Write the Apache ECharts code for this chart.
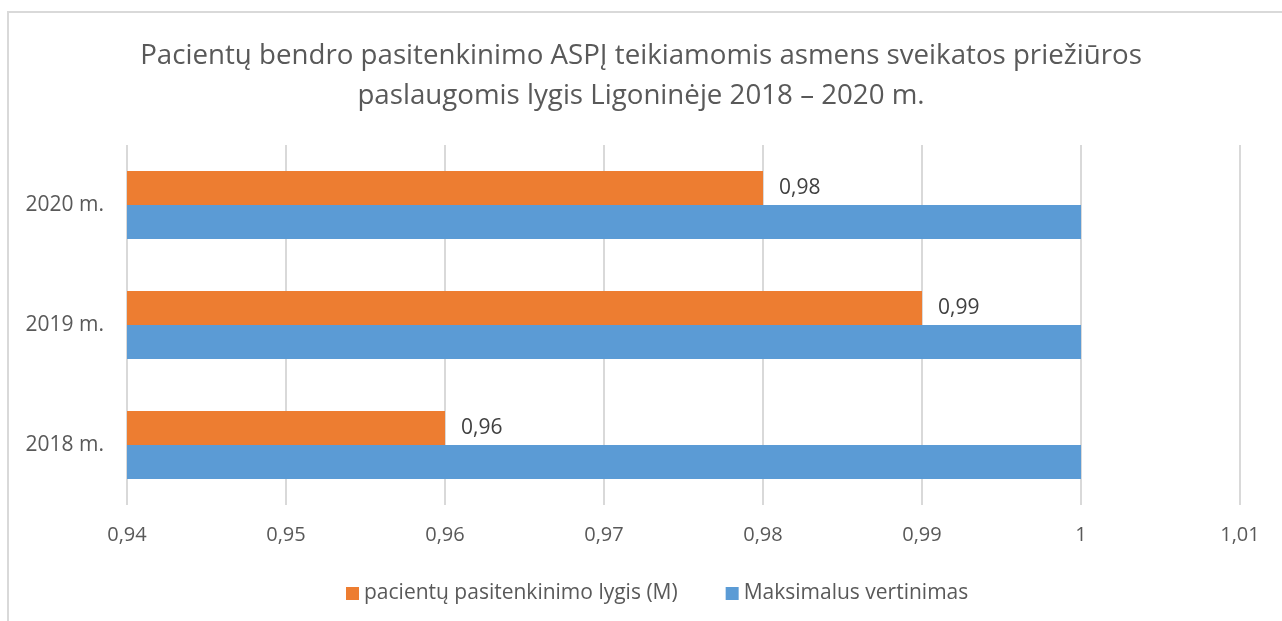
<!DOCTYPE html>
<html>
<head>
<meta charset="utf-8">
<script src="https://cdn.jsdelivr.net/npm/echarts@6/dist/echarts.min.js"></script>
<style>
html,body{margin:0;padding:0;background:#fff;}
#frame{position:absolute;left:7px;top:11px;width:1290px;height:640px;border-top:2px solid #d9d9d9;border-left:2px solid #d9d9d9;box-sizing:border-box;}
#chart{position:absolute;left:0;top:0;width:1282px;height:621px;}
</style>
</head>
<body>
<div id="frame"></div>
<div id="chart"></div>
<script>
const categories = ['2018 m.', '2019 m.', '2020 m.'];
const satisfaction = [0.96, 0.99, 0.98];
const maximum = [1, 1, 1];
const seriesNames = ['pacientų pasitenkinimo lygis (M)', 'Maksimalus vertinimas'];
const titleText = 'Pacientų bendro pasitenkinimo ASPĮ teikiamomis asmens sveikatos priežiūros\npaslaugomis lygis Ligoninėje 2018 – 2020 m.';

const fmt = v => String(Math.round(v * 100) / 100).replace('.', ',');
const FONT = '"Open Sans", "DejaVu Sans", sans-serif';
const chart = echarts.init(document.getElementById('chart'));
chart.setOption({
  backgroundColor: 'transparent',
  animation: false,
  textStyle: { fontFamily: FONT },
  title: {
    text: titleText,
    left: 'center',
    top: 31,
    textStyle: { fontFamily: FONT, fontSize: 27.7, fontWeight: 'normal', color: '#595959', lineHeight: 40 }
  },
  legend: {
    data: [seriesNames[0], seriesNames[1]],
    top: 578,
    left: 341,
    itemWidth: 13,
    itemHeight: 13,
    itemGap: 48,
    icon: 'rect',
    textStyle: { fontFamily: FONT, fontSize: 21, color: '#595959' }
  },
  grid: { left: 127, right: 42, top: 145, bottom: 116, containLabel: false },
  xAxis: {
    type: 'value',
    min: 0.94,
    max: 1.01,
    interval: 0.01,
    axisLine: { show: false },
    axisTick: { show: false },
    splitLine: { show: true, lineStyle: { color: '#d9d9d9', width: 2 } },
    axisLabel: { formatter: fmt, fontFamily: FONT, fontSize: 20, color: '#595959', margin: 20 }
  },
  yAxis: {
    type: 'category',
    data: categories,
    axisLine: { show: false },
    axisTick: { show: false },
    axisLabel: { fontFamily: FONT, fontSize: 21, color: '#595959', margin: 23 }
  },
  series: [
    {
      name: seriesNames[0],
      type: 'bar',
      data: satisfaction,
      barWidth: 34,
      barGap: '0%',
      itemStyle: { color: '#ed7d31' },
      label: {
        show: true,
        position: 'right',
        distance: 16,
        formatter: p => fmt(p.value),
        fontFamily: FONT,
        fontSize: 21,
        color: '#404040'
      }
    },
    {
      name: seriesNames[1],
      type: 'bar',
      data: maximum,
      barWidth: 34,
      barGap: '0%',
      itemStyle: { color: '#5b9bd5' }
    }
  ]
});
</script>
</body>
</html>
